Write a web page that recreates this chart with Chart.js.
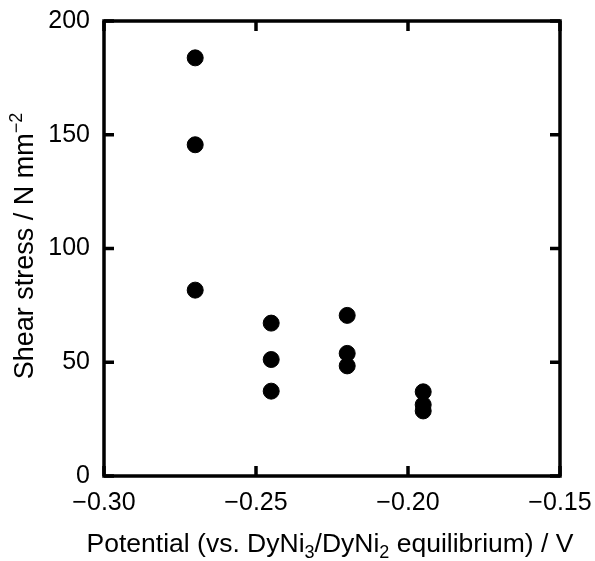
<!DOCTYPE html>
<html><head><meta charset="utf-8">
<script src="https://cdn.jsdelivr.net/npm/chart.js@4"></script>
<style>html,body{margin:0;padding:0;background:#fff}#wrap{width:595px;height:561px}</style>
</head><body><div id="wrap"><canvas id="c" width="595" height="561"></canvas></div>
<script>
const potentials = [-0.27, -0.27, -0.27, -0.245, -0.245, -0.245, -0.22, -0.22, -0.22, -0.195, -0.195, -0.195];
const shearStress = [183.8, 145.6, 81.7, 67.2, 51.2, 37.3, 70.6, 53.9, 48.4, 37.0, 31.3, 28.6];
const xTicks = [-0.30, -0.25, -0.20, -0.15];
const yTicks = [0, 50, 100, 150, 200];
// title pieces: [text, shift] shift: 0 normal, -1 subscript, 1 superscript
const xTitleParts = [['Potential (vs. DyNi', 0], ['3', -1], ['/DyNi', 0], ['2', -1], [' equilibrium) / V', 0]];
const yTitleParts = [['Shear stress / N mm', 0], ['\u22122', 1]];

const points = potentials.map((x, i) => ({x, y: shearStress[i]}));
const fmtX = v => (v < 0 ? '\u2212' : '') + Math.abs(v).toFixed(2);
const FONT = 'Liberation Sans, Arial, sans-serif';

function drawParts(ctx, parts, size, cx, baseline) {
  const small = Math.round(size * 0.68);
  let total = 0;
  const widths = parts.map(([t, s]) => {
    ctx.font = (s ? small : size) + 'px ' + FONT;
    const w = ctx.measureText(t).width; total += w; return w;
  });
  let x = cx - total / 2;
  parts.forEach(([t, s], i) => {
    ctx.font = (s ? small : size) + 'px ' + FONT;
    const dy = s === -1 ? size * 0.22 : s === 1 ? -size * 0.4 : 0;
    ctx.fillText(t, x, baseline + dy);
    x += widths[i];
  });
}

const frame = {
  id: 'frame',
  afterDraw(chart) {
    const {ctx, chartArea: a, scales: {x, y}} = chart;
    ctx.save();
    ctx.strokeStyle = '#000';
    ctx.lineWidth = 3.5;
    ctx.lineCap = 'butt';
    const L = 10;
    ctx.beginPath();
    xTicks.forEach(v => {
      const px = x.getPixelForValue(v);
      ctx.moveTo(px, a.bottom); ctx.lineTo(px, a.bottom - L);
      ctx.moveTo(px, a.top); ctx.lineTo(px, a.top + L);
    });
    yTicks.forEach(v => {
      const py = y.getPixelForValue(v);
      ctx.moveTo(a.left, py); ctx.lineTo(a.left + L, py);
      ctx.moveTo(a.right, py); ctx.lineTo(a.right - L, py);
    });
    ctx.stroke();
    ctx.strokeRect(a.left, a.top, a.right - a.left, a.bottom - a.top);
    // axis titles
    ctx.fillStyle = '#000';
    ctx.textBaseline = 'alphabetic';
    ctx.textAlign = 'left';
    drawParts(ctx, xTitleParts, 26.5, 330, 552);
    ctx.save();
    ctx.translate(33, 246);
    ctx.rotate(-Math.PI / 2);
    drawParts(ctx, yTitleParts, 27, 0, 0);
    ctx.restore();
    ctx.restore();
  }
};

new Chart(document.getElementById('c'), {
  type: 'scatter',
  data: { datasets: [{ data: points, backgroundColor: '#000', borderColor: '#000', pointRadius: 8, pointHoverRadius: 8 }] },
  options: {
    responsive: false, animation: false,
    layout: { padding: { top: 21, right: 35, left: 0, bottom: 0 } },
    plugins: { legend: { display: false }, tooltip: { enabled: false } },
    scales: {
      x: {
        type: 'linear', min: -0.30, max: -0.15,
        afterBuildTicks: s => { s.ticks = xTicks.map(v => ({value: v})); },
        afterFit: s => { s.height = 85; s.paddingLeft = 0; s.paddingRight = 0; },
        grid: { display: false, drawTicks: false },
        border: { display: false },
        ticks: { callback: v => fmtX(v), color: '#000', font: { family: FONT, size: 25 }, padding: 12, maxRotation: 0 }
      },
      y: {
        type: 'linear', min: 0, max: 200,
        afterBuildTicks: s => { s.ticks = yTicks.map(v => ({value: v})); },
        afterFit: s => { s.width = 104; s.paddingTop = 0; s.paddingBottom = 0; },
        grid: { display: false, drawTicks: false },
        border: { display: false },
        ticks: { color: '#000', font: { family: FONT, size: 25 }, padding: 14 }
      }
    }
  },
  plugins: [frame]
});
</script></body></html>
